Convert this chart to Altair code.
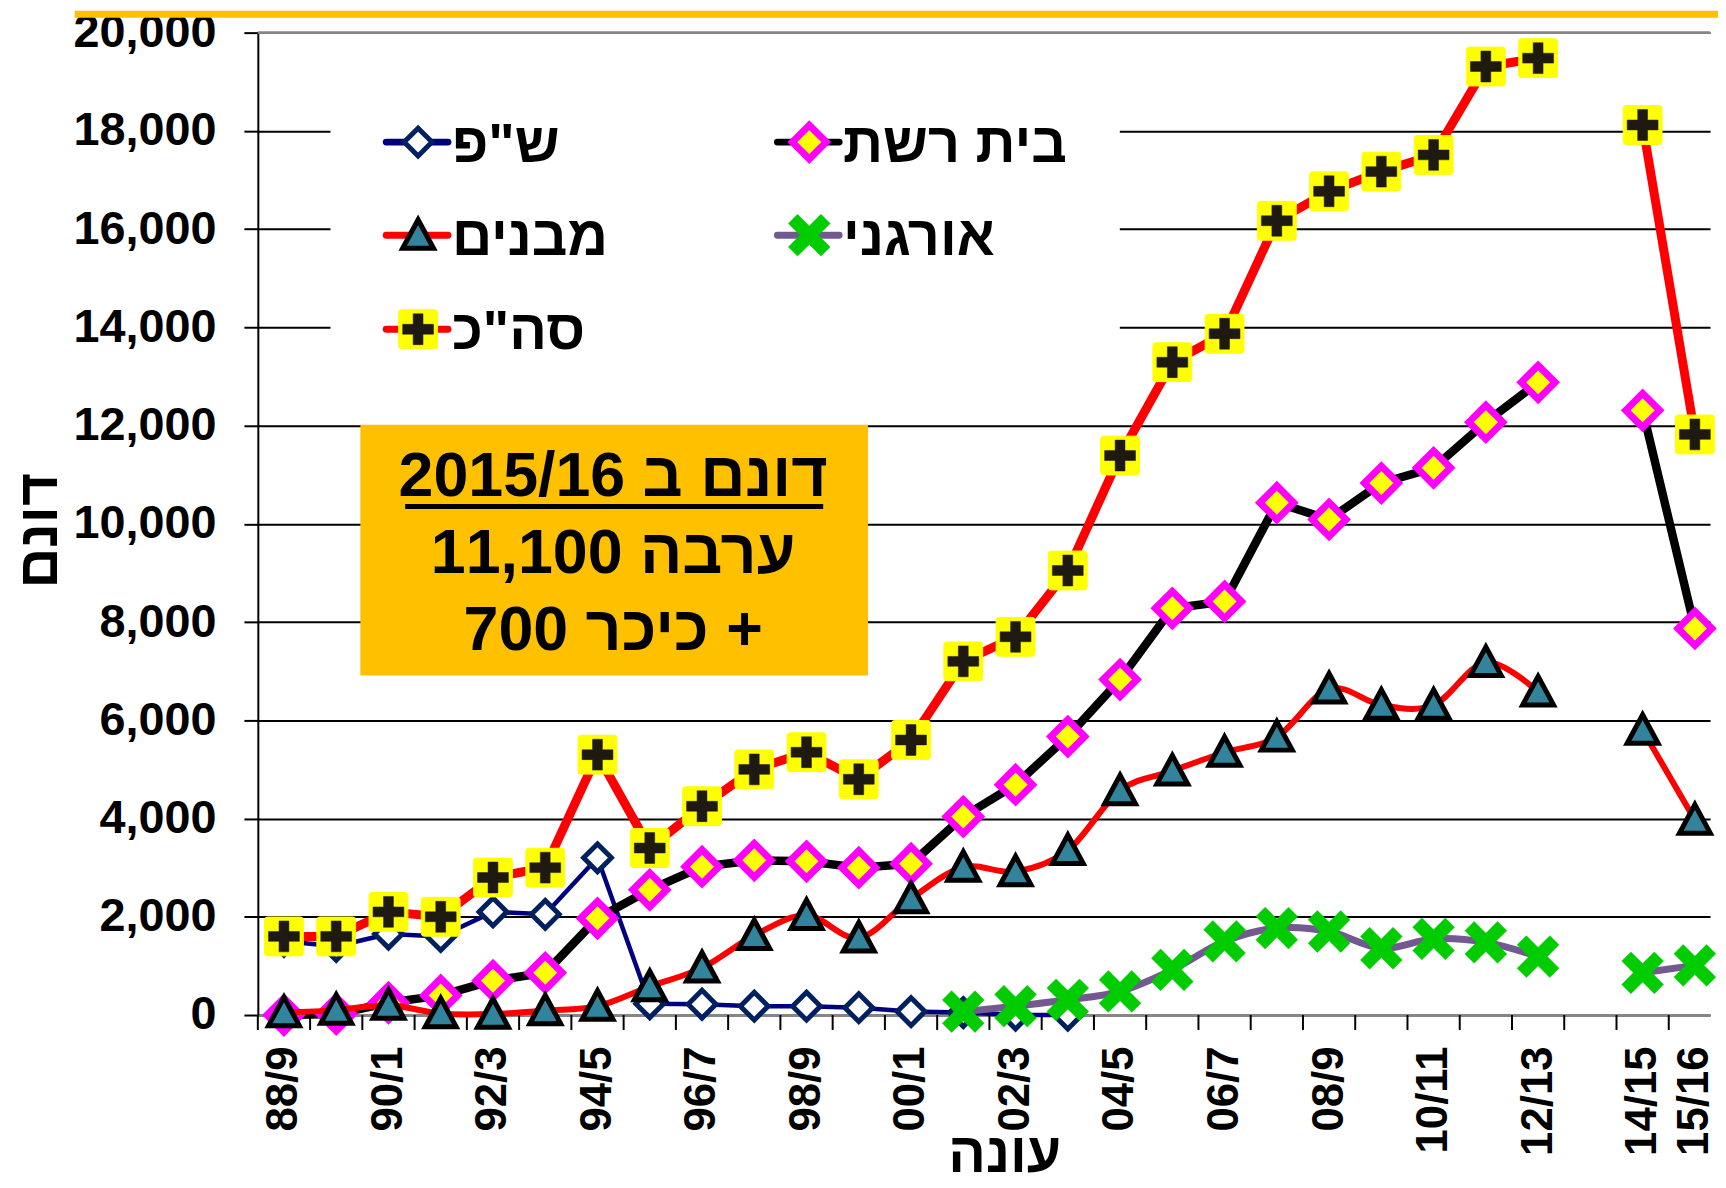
import altair as alt
import pandas as pd

# ---------------- data ----------------
seasons = ["88/9", "89/90", "90/1", "91/2", "92/3", "93/4", "94/5", "95/6", "96/7", "97/8",
           "98/9", "99/00", "00/1", "01/2", "02/3", "03/4", "04/5", "05/6", "06/7", "07/8",
           "08/9", "09/10", "10/11", "11/12", "12/13", "13/14", "14/15", "15/16"]
shown_labels = [0, 2, 4, 6, 8, 10, 12, 14, 16, 18, 20, 22, 24, 26, 27]
y_ticks = [0, 2000, 4000, 6000, 8000, 10000, 12000, 14000, 16000, 18000, 20000]

series_names = ['ש"פ', "בית רשת", "מבנים", "אורגני", 'סה"כ']

shefa = [1500, 1400, 1650, 1600, 2100, 2050, 3200, 230, 220, 180, 180, 150, 70, 50, 0, 0,
         None, None, None, None, None, None, None, None, None, None, None, None]
net_house = [0, 20, 250, 400, 700, 860, 1970, 2550, 3020, 3150, 3130, 3000, 3080, 4040,
             4690, 5670, 6830, 8280, 8420, 10430, 10090, 10830, 11140, 12070, 12880, None,
             12310, 7870]
buildings = [50, 100, 200, 30, 20, 90, 180, 580, 960, 1620, 2030, 1570, 2370, 3010, 2920,
             3350, 4570, 4970, 5350, 5660, 6640, 6310, 6310, 7180, 6580, None, 5800, 3970]
organic = [None, None, None, None, None, None, None, None, None, None, None, None, None,
           70, 180, 310, 480, 920, 1500, 1770, 1700, 1360, 1550, 1480, 1190, None, 860, 1010]
total = [1600, 1600, 2100, 2000, 2800, 3000, 5300, 3400, 4250, 5000, 5350, 4800, 5600, 7200,
         7700, 9050, 11390, 13290, 13870, 16170, 16770, 17170, 17510, 19310, 19480, None,
         18120, 11820]

annotation_lines = ["דונם ב 2015/16", "ערבה 11,100", "+ כיכר 700"]

# ---------------- layout / style ----------------
W, H = 1459, 987
FONT = "Liberation Sans, Arial, DejaVu Sans, sans-serif"
RLE, PDF = "\u202b", "\u202c"

TRI = "M0,-1L1,0.85L-1,0.85Z"
XSHAPE = "M-1,-0.56L-0.56,-1L0,-0.44L0.56,-1L1,-0.56L0.44,0L1,0.56L0.56,1L0,0.44L-0.56,1L-1,0.56L-0.44,0Z"
PLUS = "M-1,-0.32L-0.32,-0.32L-0.32,-1L0.32,-1L0.32,-0.32L1,-0.32L1,0.32L0.32,0.32L0.32,1L-0.32,1L-0.32,0.32L-1,0.32Z"
RSQ = "M-0.85,-1L0.85,-1Q1,-1,1,-0.85L1,0.85Q1,1,0.85,1L-0.85,1Q-1,1,-1,0.85L-1,-0.85Q-1,-1,-0.85,-1Z"

styles = [
    dict(line="#000080", lw=4.5, interp="linear",
         marks=[dict(shape="diamond", size=780, fill="white", stroke="#00205F", sw=5)]),
    dict(line="#000000", lw=8.5, interp="linear",
         marks=[dict(shape="diamond", size=1160, fill="#FFFF00", stroke="#FF00FF", sw=7)]),
    dict(line="#FF0000", lw=6, interp="cardinal",
         marks=[dict(shape=TRI, size=961, fill="#31849B", stroke="#000000", sw=5)]),
    dict(line="#72598F", lw=7, interp="cardinal",
         marks=[dict(shape=XSHAPE, size=1764, fill="#00CC00", stroke="#00CC00", sw=0.5)]),
    dict(line="#FF0000", lw=9, interp="linear",
         marks=[dict(shape=RSQ, size=1521, fill="#FFFF00", stroke="#FFFF00", sw=1),
                dict(shape=PLUS, size=961, fill="#1E1A12", stroke="#1E1A12", sw=0.5)]),
]
series_values = [shefa, net_house, buildings, organic, total]


def frame(vals):
    rows = []
    for i, v in enumerate(vals):
        if v is None:
            continue
        rows.append({"idx": i, "season": seasons[i], "value": v, "seg": 0 if i < 25 else 1})
    return pd.DataFrame(rows)


xscale = alt.Scale(domain=[-0.5, 27.29], nice=False, zero=False)
yscale = alt.Scale(domain=[0, 20000], nice=False, zero=False)
label_expr = "[" + ",".join("'%s'" % s for s in seasons) + "][datum.value]"

x_axis = alt.Axis(values=shown_labels, labelExpr=label_expr, labelAngle=270, labelAlign="right",
                  labelBaseline="middle", labelFont=FONT, labelFontSize=44, labelFontWeight="bold",
                  labelColor="black", labelPadding=31, labelOverlap=False, labelFlush=False,
                  labelBound=False, ticks=False, tickSize=0, grid=False, domain=True,
                  domainColor="#868686", domainWidth=3, title="עונה", titleFont=FONT,
                  titleFontSize=56, titleFontWeight="bold", titleColor="black", titleX=750,
                  titleY=157, titleAlign="center", titleBaseline="alphabetic", titleAngle=0)
y_axis = alt.Axis(values=y_ticks, format=",.0f", labelFont=FONT, labelFontSize=47,
                  labelFontWeight="bold", labelColor="black", labelPadding=28,
                  labelOverlap=False, labelFlush=False, labelBound=False, ticks=True,
                  tickSize=14, tickColor="black", tickWidth=2, domain=True, domainColor="black",
                  domainWidth=2, grid=True, gridColor="black", gridWidth=2, title="דונם",
                  titleFont=FONT, titleFontSize=57, titleFontWeight="bold", titleColor="black",
                  titleAngle=270, titleX=-219, titleY=500, titleAlign="center",
                  titleBaseline="middle")

X = alt.X("idx:Q", scale=xscale, axis=x_axis)
Y = alt.Y("value:Q", scale=yscale, axis=y_axis)

one = pd.DataFrame({"k": [0]})
layers = []

# annotation box and legend background (cover gridlines)
layers.append(alt.Chart(one).mark_rect(color="#FFC000").encode(
    x=alt.value(103), x2=alt.value(613), y=alt.value(394), y2=alt.value(646)))
layers.append(alt.Chart(one).mark_rect(color="white").encode(
    x=alt.value(73), x2=alt.value(866), y=alt.value(20), y2=alt.value(360)))

# x tick marks between categories
ticks_df = pd.DataFrame({"idx": [i - 0.5 for i in range(len(seasons))]})
layers.append(alt.Chart(ticks_df).mark_rule(color="black", strokeWidth=2).encode(
    x=X, y=alt.value(H), y2=alt.value(H + 15)))


def marker_charts(data, style, enc):
    out = []
    for m in style["marks"]:
        out.append(alt.Chart(data).mark_point(
            shape=m["shape"], size=m["size"], filled=True, fill=m["fill"], stroke=m["stroke"],
            strokeWidth=m["sw"], opacity=1, strokeJoin="miter").encode(**enc))
    return out


# data series
for vals, st in zip(series_values, styles):
    df = frame(vals)
    layers.append(alt.Chart(df).mark_line(
        color=st["line"], strokeWidth=st["lw"], interpolate=st["interp"],
        strokeJoin="round", strokeCap="round").encode(x=X, y=Y, detail="seg:N"))
    layers += marker_charts(df, st, dict(x=X, y=Y))

# top border of plot area
layers.append(alt.Chart(one).mark_rule(color="#868686", strokeWidth=3).encode(
    x=alt.value(0), x2=alt.value(W), y=alt.value(0)))
# gold band at the very top
layers.append(alt.Chart(one).mark_rect(color="#FFC000").encode(
    x=alt.value(-184), x2=alt.value(W + 8), y=alt.value(-22), y2=alt.value(-15)))

# annotation text
annot_y = [466, 543, 620]
for txt, yy in zip(annotation_lines, annot_y):
    layers.append(alt.Chart(one).mark_text(
        text=RLE + txt + PDF, align="center", baseline="alphabetic", font=FONT, fontSize=63,
        fontWeight="bold", color="black").encode(x=alt.value(357), y=alt.value(yy)))
layers.append(alt.Chart(one).mark_rect(color="black").encode(
    x=alt.value(148), x2=alt.value(568), y=alt.value(473.5), y2=alt.value(478.5)))

# legend
leg_pos = [(0, 0), (1, 0), (0, 1), (1, 1), (0, 2)]
col_x = [161, 554]
row_y = [110, 203.5, 298]
for name, st, (c, r) in zip(series_names, styles, leg_pos):
    cx, cy = col_x[c], row_y[r]
    layers.append(alt.Chart(one).mark_rule(color=st["line"], strokeWidth=7, strokeCap="round").encode(
        x=alt.value(cx - 32), x2=alt.value(cx + 30), y=alt.value(cy)))
    layers += marker_charts(one, st, dict(x=alt.value(cx), y=alt.value(cy)))
    layers.append(alt.Chart(one).mark_text(
        text=name, align="left", baseline="alphabetic", font=FONT, fontSize=56,
        fontWeight="bold", color="black").encode(x=alt.value(cx + 34), y=alt.value(cy + 20)))

chart = alt.layer(*layers).properties(
    width=W, height=H,
    padding={"left": 251, "top": 22, "right": 8, "bottom": 163},
    autosize=alt.AutoSizeParams(type="none"),
).configure_view(stroke=None)

chart.save("out.html", embed_options={"renderer": "svg", "actions": False})
